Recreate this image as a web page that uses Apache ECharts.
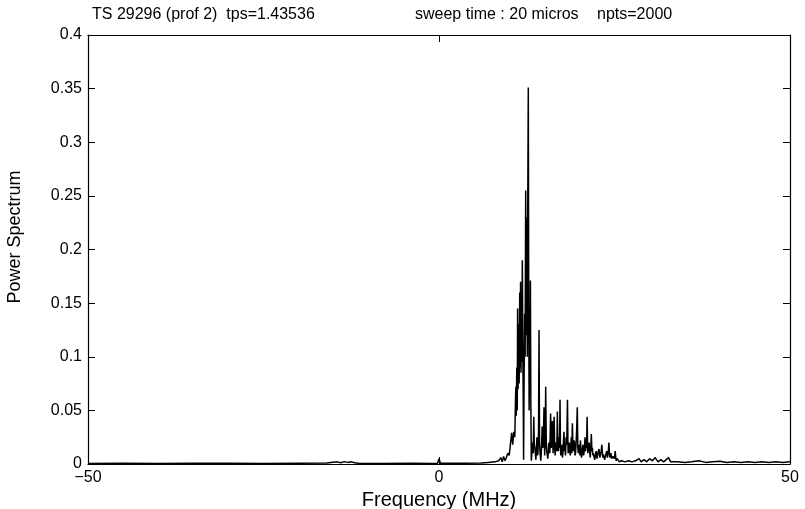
<!DOCTYPE html>
<html>
<head>
<meta charset="utf-8">
<script src="https://cdn.jsdelivr.net/npm/echarts@6/dist/echarts.min.js"></script>
<style>
html,body{margin:0;padding:0;background:#fff;}
#chart{width:805px;height:509px;}
</style>
</head>
<body>
<div id="chart"></div>
<script>
// ---- data (frequency in MHz, power spectrum) ----
var freq = [
  -50, -45, -40, -35, -30, -25, -20, -16, -14.5, -14, -13.5, -13, -12.5, -12, -11.5, -8, -4, -1, -0.2, 0, 0.2, 2, 4, 6, 7, 8, 8.5,
  8.8, 9.0, 9.2, 9.4, 9.6, 9.8, 10.0, 10.2, 10.35, 10.5, 10.65, 10.8,
  10.9, 10.95, 11.0, 11.08, 11.15, 11.2, 11.27, 11.35, 11.42, 11.5, 11.57, 11.62, 11.68, 11.75, 11.8, 11.87, 11.95, 12.0,
  12.05, 12.12, 12.2, 12.27, 12.35, 12.42, 12.5, 12.58, 12.65, 12.72, 12.78, 12.84, 12.9, 12.95, 13.02, 13.08, 13.15,
  13.25, 13.35, 13.42, 13.5, 13.58, 13.65, 13.8, 13.88, 13.95, 14.03, 14.1, 14.18, 14.25, 14.32, 14.4, 14.5,
  14.6, 14.7, 14.8, 14.88, 14.96, 15.05, 15.12, 15.2, 15.28, 15.35, 15.5, 15.58, 15.65, 15.78, 15.9, 16.0, 16.08, 16.15, 16.25,
  16.32, 16.4, 16.48, 16.55, 16.62, 16.7, 16.78, 16.86, 16.93, 17.0, 17.1, 17.17, 17.24, 17.3, 17.35, 17.42, 17.5, 17.58, 17.65,
  17.72, 17.8, 17.88, 17.95, 18.02, 18.1, 18.2, 18.3, 18.36, 18.4, 18.48, 18.55, 18.62, 18.7, 18.78, 18.85, 18.92, 19.0, 19.08,
  19.15, 19.22, 19.3, 19.38, 19.45, 19.52, 19.6, 19.7, 19.78, 19.85, 19.92, 20.0, 20.08, 20.15, 20.22, 20.3, 20.4, 20.5, 20.58,
  20.65, 20.72, 20.8, 20.88, 20.95, 21.02, 21.1, 21.16, 21.2, 21.3, 21.4, 21.48, 21.55, 21.62, 21.7, 21.78, 21.85, 21.92, 22.0,
  22.1, 22.2, 22.3, 22.4, 22.5, 22.6, 22.7, 22.8, 22.9, 23.0, 23.1, 23.2, 23.28, 23.35, 23.42, 23.5, 23.6, 23.7, 23.8, 23.9,
  23.98, 24.05, 24.12, 24.2, 24.28, 24.35, 24.42, 24.5, 24.6, 24.7, 24.8, 24.9, 25.0, 25.1, 25.18, 25.25, 25.38, 25.5, 25.6, 25.7, 26.0,
  26.5, 27, 27.5, 28, 28.5, 28.8, 29.2, 29.6, 30, 30.4, 30.8, 31.2, 31.6, 32, 32.7, 33, 34, 35, 36, 37, 38, 39, 40, 41, 42,
  43, 44, 45, 46, 47, 48, 49, 50
];
var power = [
  0.0005, 0.0008, 0.0004, 0.0006, 0.0007, 0.0005, 0.0008, 0.0010, 0.0020, 0.0012, 0.0022, 0.0015, 0.0020, 0.0012, 0.0008, 0.0005, 0.0006, 0.0005, 0.0008, 0.0048, 0.0008, 0.0006, 0.0008, 0.0010, 0.0015, 0.0020, 0.0030,
  0.006, 0.002, 0.007, 0.003, 0.006, 0.010, 0.008, 0.020, 0.029, 0.018, 0.030, 0.025,
  0.060, 0.072, 0.045, 0.090, 0.050, 0.145, 0.070, 0.130, 0.075, 0.160, 0.090, 0.170, 0.085, 0.150, 0.095, 0.190, 0.100, 0.060,
  0.004, 0.080, 0.140, 0.100, 0.255, 0.120, 0.230, 0.100, 0.250, 0.351, 0.150, 0.050, 0.110, 0.080, 0.171, 0.060, 0.003,
  0.012, 0.020, 0.010, 0.044, 0.018, 0.015, 0.004, 0.015, 0.025, 0.008, 0.010, 0.030, 0.125, 0.020, 0.010, 0.003,
  0.015, 0.035, 0.015, 0.028, 0.053, 0.008, 0.020, 0.072, 0.020, 0.012, 0.005, 0.012, 0.020, 0.010, 0.047, 0.015, 0.030, 0.040, 0.010,
  0.022, 0.044, 0.015, 0.008, 0.018, 0.020, 0.012, 0.049, 0.020, 0.012, 0.025, 0.015, 0.060, 0.015, 0.008, 0.015, 0.018, 0.006, 0.010,
  0.020, 0.030, 0.012, 0.015, 0.008, 0.025, 0.018, 0.060, 0.020, 0.010, 0.015, 0.020, 0.012, 0.008, 0.018, 0.025, 0.010, 0.038, 0.015,
  0.012, 0.022, 0.020, 0.008, 0.010, 0.018, 0.030, 0.053, 0.015, 0.010, 0.018, 0.015, 0.008, 0.022, 0.012, 0.006, 0.012, 0.018, 0.008,
  0.010, 0.015, 0.025, 0.012, 0.020, 0.015, 0.044, 0.018, 0.010, 0.016, 0.020, 0.010, 0.006, 0.014, 0.028, 0.012, 0.015, 0.008, 0.010,
  0.006, 0.004, 0.010, 0.012, 0.005, 0.006, 0.012, 0.014, 0.006, 0.008, 0.012, 0.018, 0.010, 0.006, 0.009, 0.010, 0.004, 0.005, 0.010, 0.012,
  0.006, 0.008, 0.012, 0.020, 0.010, 0.006, 0.008, 0.010, 0.005, 0.004, 0.007, 0.008, 0.005, 0.012, 0.006, 0.003, 0.005, 0.006, 0.004, 0.002, 0.003,
  0.002, 0.003, 0.002, 0.003, 0.005, 0.002, 0.004, 0.002, 0.005, 0.003, 0.006, 0.002, 0.004, 0.002, 0.006, 0.002, 0.002, 0.0015, 0.002, 0.003, 0.0015, 0.002, 0.0025, 0.0015, 0.002,
  0.0015, 0.002, 0.0015, 0.002, 0.0015, 0.002, 0.0015, 0.002
];
var xTicks = [-50, 0, 50];
var xTickLabels = ['\u221250', '0', '50'];
var yTicks = [0, 0.05, 0.1, 0.15, 0.2, 0.25, 0.3, 0.35, 0.4];
var yTickLabels = ['0', '0.05', '0.1', '0.15', '0.2', '0.25', '0.3', '0.35', '0.4'];
var titleParts = ['TS 29296 (prof 2)  tps=1.43536', 'sweep time : 20 micros', 'npts=2000'];
var xLabel = 'Frequency (MHz)';
var yLabel = 'Power Spectrum';

var pairs = freq.map(function (f, i) { return [f, power[i]]; });

function lbl(ticks, labels) {
  return function (v) {
    for (var i = 0; i < ticks.length; i++) {
      if (Math.abs(ticks[i] - v) < 1e-9) return labels[i];
    }
    return '';
  };
}

var FONT = '"Liberation Sans", Arial, Helvetica, sans-serif';
var axisLine = { show: true, onZero: false, lineStyle: { color: '#000', width: 1.2 } };
var tick = { show: true, inside: true, length: 7, lineStyle: { color: '#000', width: 1 } };

var chart = echarts.init(document.getElementById('chart'), null, { renderer: 'canvas' });
chart.setOption({
  animation: false,
  backgroundColor: '#fff',
  grid: { left: 88, right: 15, top: 35, bottom: 45, containLabel: false, outerBoundsMode: 'none' },
  graphic: [
    { type: 'text', left: 92, top: 7, style: { text: titleParts[0], font: '16px ' + FONT, fill: '#000' } },
    { type: 'text', left: 415, top: 7, style: { text: titleParts[1], font: '16px ' + FONT, fill: '#000' } },
    { type: 'text', left: 597, top: 7, style: { text: titleParts[2], font: '16px ' + FONT, fill: '#000' } },
    { type: 'text', x: 15, y: 237, rotation: Math.PI / 2,
      style: { text: yLabel, font: '18px ' + FONT, fill: '#000', align: 'center', verticalAlign: 'middle' } }
  ],
  xAxis: [
    {
      type: 'value', position: 'bottom', min: -50, max: 50, interval: 50,
      axisLine: axisLine, axisTick: tick, splitLine: { show: false },
      axisLabel: { show: true, color: '#000', fontSize: 16, fontFamily: FONT, margin: 6,
        showMinLabel: true, showMaxLabel: true, formatter: lbl(xTicks, xTickLabels) },
      name: xLabel, nameLocation: 'middle', nameGap: 23,
      nameTextStyle: { color: '#000', fontSize: 20, fontFamily: FONT }
    },
    {
      type: 'value', position: 'top', min: -50, max: 50, interval: 50,
      axisLine: axisLine, axisTick: tick, splitLine: { show: false }, axisLabel: { show: false }
    }
  ],
  yAxis: [
    {
      type: 'value', position: 'left', min: 0, max: 0.4, interval: 0.05,
      axisLine: axisLine, axisTick: tick, splitLine: { show: false },
      axisLabel: { show: true, color: '#000', fontSize: 16, fontFamily: FONT, margin: 6,
        showMinLabel: true, showMaxLabel: true, formatter: lbl(yTicks, yTickLabels) }
    },
    {
      type: 'value', position: 'right', min: 0, max: 0.4, interval: 0.05,
      axisLine: axisLine, axisTick: tick, splitLine: { show: false }, axisLabel: { show: false }
    }
  ],
  series: [
    {
      type: 'line', xAxisIndex: 0, yAxisIndex: 0, data: pairs,
      showSymbol: false, symbol: 'none', smooth: false,
      lineStyle: { color: '#000', width: 1.5 }, emphasis: { disabled: true }
    }
  ]
});
</script>
</body>
</html>
